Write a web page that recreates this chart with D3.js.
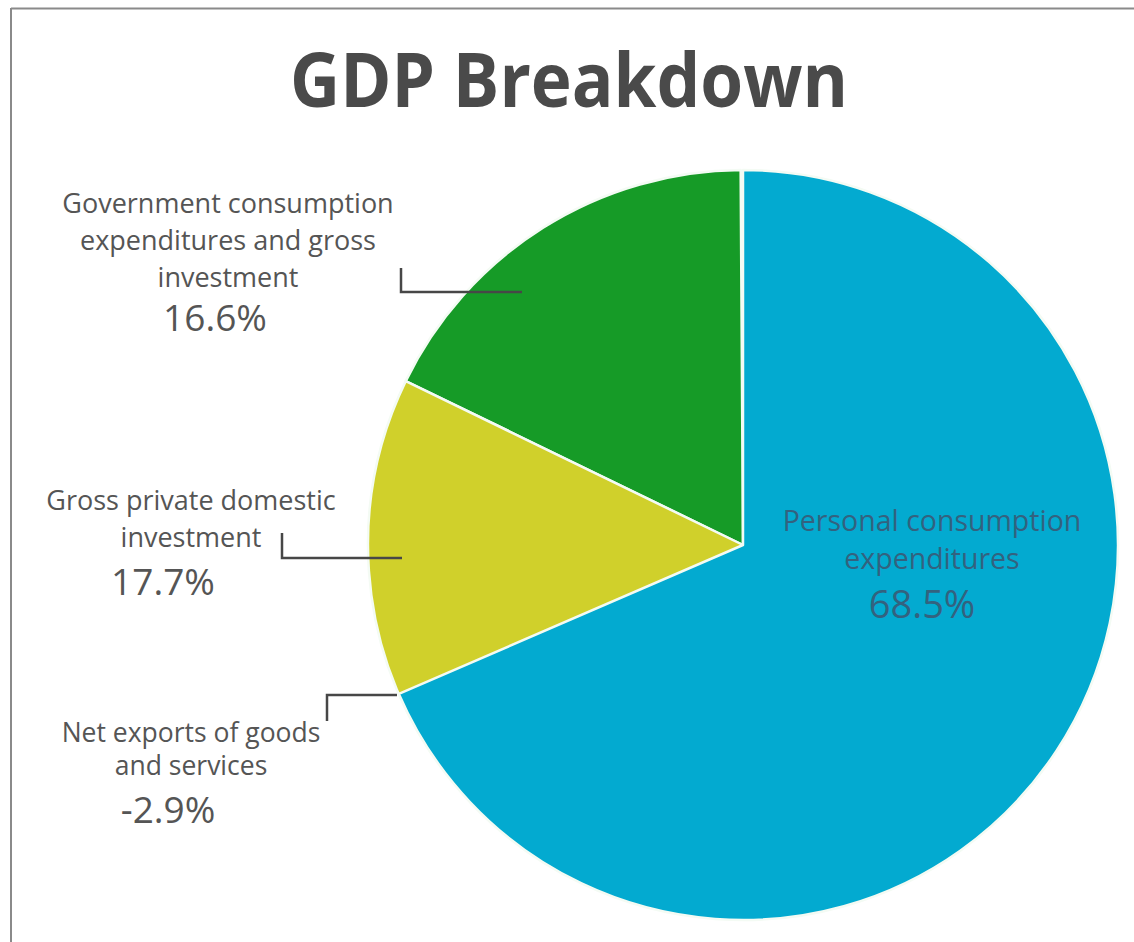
<!DOCTYPE html>
<html>
<head>
<meta charset="utf-8">
<script src="https://cdn.jsdelivr.net/npm/d3@7"></script>
<style>
  body { margin: 0; background: #fff; }
  svg { display: block; font-family: "Open Sans", sans-serif; }
</style>
</head>
<body>
<svg id="chart" width="1134" height="942"></svg>
<script>
// GDP shares in percent, as printed on the chart
const categories = [
  "Personal consumption expenditures",
  "Net exports of goods and services",
  "Gross private domestic investment",
  "Government consumption expenditures and gross investment"
]
const shares = [68.5, -2.9, 17.7, 16.6]

// label text split into lines, same order as categories
const labelLines = [
  ["Personal consumption", "expenditures"],
  ["Net exports of goods", "and services"],
  ["Gross private domestic", "investment"],
  ["Government consumption", "expenditures and gross", "investment"]
]

// order the wedges are stacked round the circle (clockwise from 12 o'clock)
const stackOrder = [0, 1, 3, 2]
const colors = ["#03aad0", "none", "#169b27", "#d0d02b"]

const width = 1134, height = 942
const cx = 743, cy = 545, radius = 375

const svg = d3.select("#chart")

// frame lines on top and left
svg.append("line").attr("x1", 11).attr("y1", 8.5).attr("x2", width).attr("y2", 8.5)
  .attr("stroke", "#8a8a8a").attr("stroke-width", 2)
svg.append("line").attr("x1", 11).attr("y1", 8).attr("x2", 11).attr("y2", height)
  .attr("stroke", "#8a8a8a").attr("stroke-width", 2)

svg.append("text")
  .attr("x", 569).attr("y", 107)
  .attr("text-anchor", "middle")
  .attr("font-size", 76).attr("font-weight", 700)
  .attr("textLength", 558).attr("lengthAdjust", "spacingAndGlyphs")
  .attr("fill", "#4a4a4a")
  .text("GDP Breakdown")

// percent -> angle
const angle = d3.scaleLinear().domain([0, 100]).range([0, 2 * Math.PI])
const ordered = stackOrder.map(i => shares[i])
const ends = d3.cumsum(ordered)
const wedges = stackOrder.map((i, k) => ({
  index: i,
  startAngle: angle(ends[k] - ordered[k]),
  endAngle: angle(ends[k])
})).filter(d => shares[d.index] > 0)

const arc = d3.arc().innerRadius(0).outerRadius(radius)

const pie = svg.append("g").attr("transform", "translate(" + cx + "," + cy + ")")
// first wedge drawn last so it sits on top
pie.selectAll("path")
  .data(wedges.slice().reverse())
  .enter()
  .append("path")
  .attr("d", arc)
  .attr("fill", d => colors[d.index])
  .attr("stroke", "#f4fbf4")
  .attr("stroke-width", 2.5)
  .attr("stroke-linejoin", "round")

// label placement (text anchor points, line spacing, sizes)
const layout = [
  { x: 932, y: 531, pctX: 922, pctY: 618, color: "#33627f", gap: 38, size: 28.5, pctSize: 38 },
  { x: 191, y: 742, pctX: 168, pctY: 823, color: "#555", gap: 33, size: 26.5, pctSize: 37 },
  { x: 191, y: 510, pctX: 163, pctY: 595, color: "#555", gap: 37, size: 27, pctSize: 37 },
  { x: 228, y: 213, pctX: 215, pctY: 331, color: "#555", gap: 37, size: 27, pctSize: 37 }
]
const fmt = d3.formatLocale({ decimal: ".", thousands: ",", grouping: [3], currency: ["", ""], minus: "-" }).format(".1f")

layout.forEach((p, i) => {
  const g = svg.append("g").attr("fill", p.color).attr("text-anchor", "middle")
  g.selectAll("text.line")
    .data(labelLines[i])
    .enter()
    .append("text")
    .attr("class", "line")
    .attr("x", p.x)
    .attr("y", (d, j) => p.y + j * p.gap)
    .attr("font-size", p.size)
    .text(d => d)
  g.append("text")
    .attr("x", p.pctX).attr("y", p.pctY)
    .attr("font-size", p.pctSize)
    .text(fmt(shares[i]) + "%")
})

// leader lines from the outside labels
const leaders = [
  [[401, 268], [401, 292], [522, 292]],
  [[282, 533], [282, 558], [402, 558]],
  [[327, 721], [327, 695], [397, 695]]
]
svg.selectAll("path.leader")
  .data(leaders)
  .enter()
  .append("path")
  .attr("class", "leader")
  .attr("d", d3.line())
  .attr("fill", "none")
  .attr("stroke", "#474747")
  .attr("stroke-width", 2.5)
</script>
</body>
</html>
